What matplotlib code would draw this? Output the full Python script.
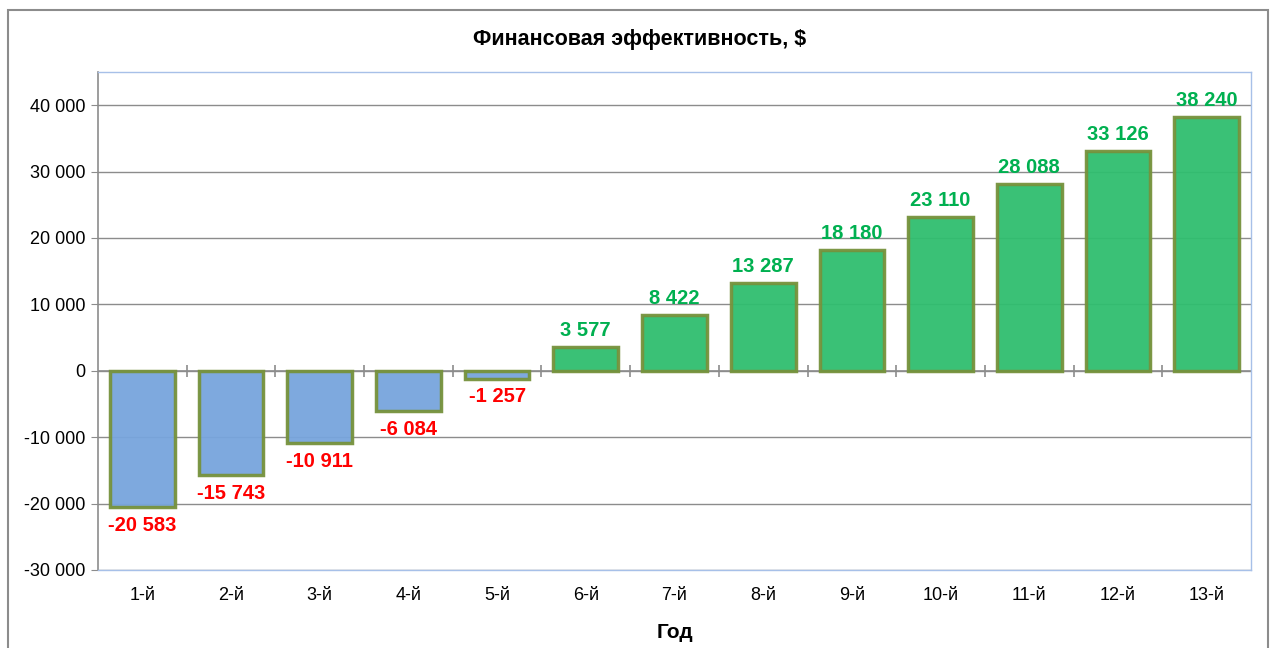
import matplotlib.pyplot as plt
from matplotlib.patches import Rectangle
from matplotlib.ticker import FuncFormatter

plt.rcParams['font.family'] = ['Liberation Sans', 'DejaVu Sans']
plt.rcParams['axes.unicode_minus'] = False

years = ["1-й", "2-й", "3-й", "4-й", "5-й", "6-й", "7-й",
         "8-й", "9-й", "10-й", "11-й", "12-й", "13-й"]
values = [-20583, -15743, -10911, -6084, -1257, 3577, 8422,
          13287, 18180, 23110, 28088, 33126, 38240]


def fmt_num(v, pos=None):
    return f"{int(v):,}".replace(",", " ")


fig = plt.figure(figsize=(12.71, 6.48), dpi=100)
ax = fig.add_axes([98 / 1271, 78 / 648, 1153 / 1271, 498 / 648])

# outer chart frame
fig.patches.append(Rectangle((8 / 1271, -0.05), 1260 / 1271, 1.05 - 10 / 648,
                             transform=fig.transFigure, fill=False,
                             edgecolor="#8c8c8c", linewidth=1.5))

x = list(range(len(years)))
colors = ["#77a5dd" if v < 0 else "#2fbe6f" for v in values]
ax.bar(x, values, width=0.73, color=colors, alpha=0.95,
       edgecolor="#76923c", linewidth=2.5, zorder=3)

# category axis crossing at zero, tick marks between categories
ax.axhline(0, color="#8c8c8c", linewidth=1.2, zorder=2)
bounds = [i + 0.5 for i in range(len(years) - 1)]
ax.plot(bounds, [0] * len(bounds), linestyle="none", marker="|",
        markersize=8, markeredgewidth=1.2, color="#8c8c8c", zorder=2)

for xi, v in zip(x, values):
    if v < 0:
        ax.annotate(fmt_num(v), (xi, v), xytext=(0, -6), textcoords="offset points",
                    ha="center", va="top", color="#ff0000",
                    fontsize=14.5, fontweight="bold")
    else:
        ax.annotate(fmt_num(v), (xi, v), xytext=(0, 5), textcoords="offset points",
                    ha="center", va="bottom", color="#00b050",
                    fontsize=14.5, fontweight="bold")

ax.set_xlim(-0.5, len(years) - 0.5)
ax.set_ylim(-30000, 45000)
ax.set_yticks(range(-30000, 40001, 10000))
ax.yaxis.set_major_formatter(FuncFormatter(fmt_num))
ax.set_xticks(x)
ax.set_xticklabels(years)
ax.grid(axis="y", color="#8c8c8c", linewidth=1, zorder=0)
ax.set_axisbelow(True)

ax.tick_params(axis="y", labelsize=13, length=5, color="#8c8c8c", pad=4)
ax.tick_params(axis="x", labelsize=13, length=0, pad=12)

for side in ["top", "right", "bottom"]:
    ax.spines[side].set_color("#a7c0e8")
    ax.spines[side].set_linewidth(1)
ax.spines["left"].set_color("#8c8c8c")
ax.spines["left"].set_linewidth(1.2)

fig.text(640 / 1271, 1 - 40 / 648, "Финансовая эффективность, $",
         ha="center", va="center", fontsize=15.5, fontweight="bold")
ax.set_xlabel("Год", fontsize=15, fontweight="bold", labelpad=14)

fig.savefig("out.png", dpi=100)
